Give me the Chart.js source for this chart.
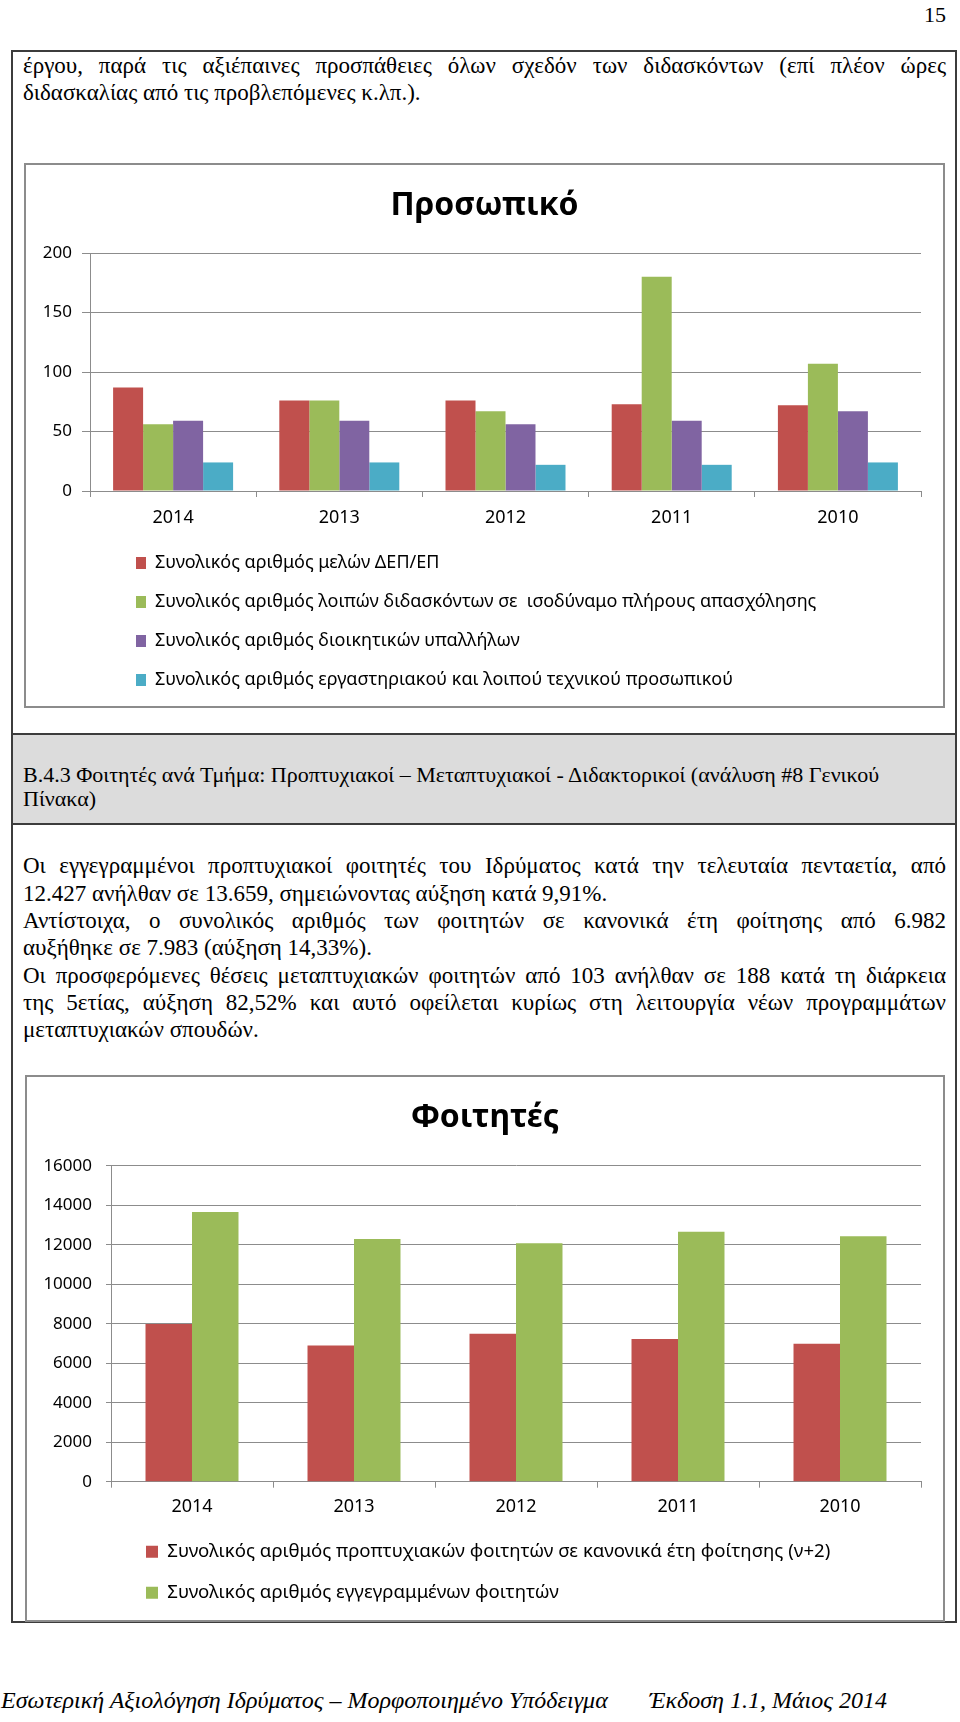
<!DOCTYPE html>
<html><head><meta charset="utf-8">
<script src="https://cdn.jsdelivr.net/npm/chart.js@4"></script>
<style>
html,body{margin:0;padding:0;background:#fff;}
body{width:960px;height:1722px;position:relative;overflow:hidden;font-family:"Liberation Serif","Times New Roman",serif;color:#000;}
.a{position:absolute;white-space:nowrap;}
.ln{position:absolute;left:23px;width:923px;font-size:23px;line-height:27px;white-space:nowrap;}
.j{text-align:justify;text-align-last:justify;white-space:normal;}
.hd{position:absolute;left:23px;font-size:22px;line-height:24px;white-space:nowrap;}
.box{position:absolute;box-sizing:border-box;}
canvas{position:absolute;}
</style></head>
<body>
<div class="a" style="right:14px;top:4px;font-size:22px;line-height:22px;">15</div>

<div class="box" style="left:11px;top:50px;width:946px;height:1573px;border:2px solid #3c3c3c;"></div>
<div class="box" style="left:11px;top:733px;width:946px;height:92px;background:#dcdcdc;border:2px solid #3c3c3c;"></div>

<div class="ln j" style="top:51.7px;">έργου, παρά τις αξιέπαινες προσπάθειες όλων σχεδόν των διδασκόντων (επί πλέον ώρες</div>
<div class="ln" style="top:78.7px;">διδασκαλίας από τις προβλεπόμενες κ.λπ.).</div>

<div class="box" style="left:24px;top:163px;width:921px;height:545px;border:2px solid #8c8c8c;"></div>
<canvas id="c1" width="917" height="541" style="left:26px;top:165px;"></canvas>

<div class="hd" style="top:762.6px;">Β.4.3 Φοιτητές ανά Τμήμα: Προπτυχιακοί – Μεταπτυχιακοί - Διδακτορικοί (ανάλυση #8 Γενικού</div>
<div class="hd" style="top:786.6px;">Πίνακα)</div>

<div class="ln j" style="top:852.3px;">Οι εγγεγραμμένοι προπτυχιακοί φοιτητές του Ιδρύματος κατά την τελευταία πενταετία, από</div>
<div class="ln" style="top:879.6px;">12.427 ανήλθαν σε 13.659, σημειώνοντας αύξηση κατά 9,91%.</div>
<div class="ln j" style="top:906.9px;">Αντίστοιχα, ο συνολικός αριθμός των φοιτητών σε κανονικά έτη φοίτησης από 6.982</div>
<div class="ln" style="top:934.2px;">αυξήθηκε σε 7.983 (αύξηση 14,33%).</div>
<div class="ln j" style="top:961.5px;">Οι προσφερόμενες θέσεις μεταπτυχιακών φοιτητών από 103 ανήλθαν σε 188 κατά τη διάρκεια</div>
<div class="ln j" style="top:988.8px;">της 5ετίας, αύξηση 82,52% και αυτό οφείλεται κυρίως στη λειτουργία νέων προγραμμάτων</div>
<div class="ln" style="top:1016.1px;">μεταπτυχιακών σπουδών.</div>

<div class="box" style="left:25px;top:1075px;width:920px;height:547px;border:2px solid #8c8c8c;"></div>
<canvas id="c2" width="916" height="542" style="left:27px;top:1077px;"></canvas>

<div class="a" style="left:1px;top:1688px;font-size:24px;line-height:24px;font-style:italic;">Εσωτερική Αξιολόγηση Ιδρύματος – Μορφοποιημένο Υπόδειγμα</div>
<div class="a" style="right:73px;top:1688px;font-size:24px;line-height:24px;font-style:italic;">Έκδοση 1.1, Μάιος 2014</div>

<script>
// ---- data ----
const years = ['2014', '2013', '2012', '2011', '2010'];

const staffTitle = 'Προσωπικό';
const staffSeriesNames = [
  'Συνολικός αριθμός μελών ΔΕΠ/ΕΠ',
  'Συνολικός αριθμός λοιπών διδασκόντων σε  ισοδύναμο πλήρους απασχόλησης',
  'Συνολικός αριθμός διοικητικών υπαλλήλων',
  'Συνολικός αριθμός εργαστηριακού και λοιπού τεχνικού προσωπικού'
];
const staffDEP   = [87, 76, 76, 73, 72];
const staffOther = [56, 76, 67, 180, 107];
const staffAdmin = [59, 59, 56, 59, 67];
const staffTech  = [24, 24, 22, 22, 24];
const staffAxis  = { min: 0, max: 200, step: 50 };

const studTitle = 'Φοιτητές';
const studSeriesNames = [
  'Συνολικός αριθμός προπτυχιακών φοιτητών σε κανονικά έτη φοίτησης (ν+2)',
  'Συνολικός αριθμός εγγεγραμμένων φοιτητών'
];
const studRegular  = [7983, 6900, 7490, 7220, 6982];
const studEnrolled = [13659, 12290, 12070, 12660, 12427];
const studAxis     = { min: 0, max: 16000, step: 2000 };

const colors = ['#C0504D', '#9BBB59', '#8064A2', '#4BACC6'];
const gridColor = '#8c8c8c';

Chart.defaults.font.family = "'Noto Sans', sans-serif";
Chart.defaults.color = '#000';

// Place the legend rows at a given left edge and centre the title on the whole canvas
const boxShift = {
  id: 'boxShift',
  afterLayout(chart, args, opts) {
    const lg = chart.legend;
    if (lg) {
      const dx = opts.legendX - (lg.left + lg.options.labels.padding);
      lg.left += dx; lg.right += dx;
    }
    const tb = chart.titleBlock;
    if (tb) { tb.left = 0; tb.right = chart.width; }
  }
};

function makeChart(id, cfg) {
  return new Chart(document.getElementById(id), {
    type: 'bar',
    data: {
      labels: years,
      datasets: cfg.series.map((d, i) => ({
        label: cfg.names[i], data: d, backgroundColor: colors[i], borderWidth: 0,
        categoryPercentage: cfg.catPct, barPercentage: 1.0
      }))
    },
    options: {
      responsive: false, animation: false, devicePixelRatio: 1,
      layout: { padding: { left: 0, right: 22, top: 0, bottom: 7 } },
      plugins: {
        title: { display: true, text: cfg.title, color: '#000',
          font: { size: 32, weight: 'bold' }, padding: { top: 22, bottom: cfg.titleBottom } },
        legend: { position: 'bottom', align: 'start',
          labels: { font: { size: cfg.legendFont }, padding: cfg.legendPad, boxWidth: cfg.boxW, boxHeight: 12, color: '#000' } },
        tooltip: { enabled: false },
        boxShift: { legendX: cfg.legendX }
      },
      scales: {
        x: {
          afterFit: s => { s.height = cfg.xHeight; },
          grid: { drawOnChartArea: false, drawTicks: true, tickLength: 6, color: gridColor, offset: true },
          border: { color: gridColor },
          ticks: { font: { size: cfg.xFont }, padding: cfg.xPad, color: '#000' }
        },
        y: {
          min: cfg.axis.min, max: cfg.axis.max,
          afterFit: s => { s.width = cfg.yWidth; },
          grid: { color: gridColor, tickLength: cfg.yTick },
          border: { color: gridColor },
          ticks: { stepSize: cfg.axis.step, font: { size: 17 }, padding: cfg.yPad, color: '#000',
                   callback: v => String(v) }
        }
      }
    },
    plugins: [boxShift]
  });
}

makeChart('c1', {
  title: staffTitle, names: staffSeriesNames,
  series: [staffDEP, staffOther, staffAdmin, staffTech],
  axis: staffAxis, catPct: 0.722, titleBottom: 27.6,
  legendFont: 18, legendPad: 21, boxW: 10, legendX: 110,
  xHeight: 42, xFont: 18, xPad: 10.2, yWidth: 64, yTick: 8, yPad: 10
});

makeChart('c2', {
  title: studTitle, names: studSeriesNames,
  series: [studRegular, studEnrolled],
  axis: studAxis, catPct: 0.574, titleBottom: 28.3,
  legendFont: 18.6, legendPad: 22.4, boxW: 12, legendX: 119,
  xHeight: 38.3, xFont: 18, xPad: 8.5, yWidth: 84, yTick: 5, yPad: 14
});
</script>
</body></html>
